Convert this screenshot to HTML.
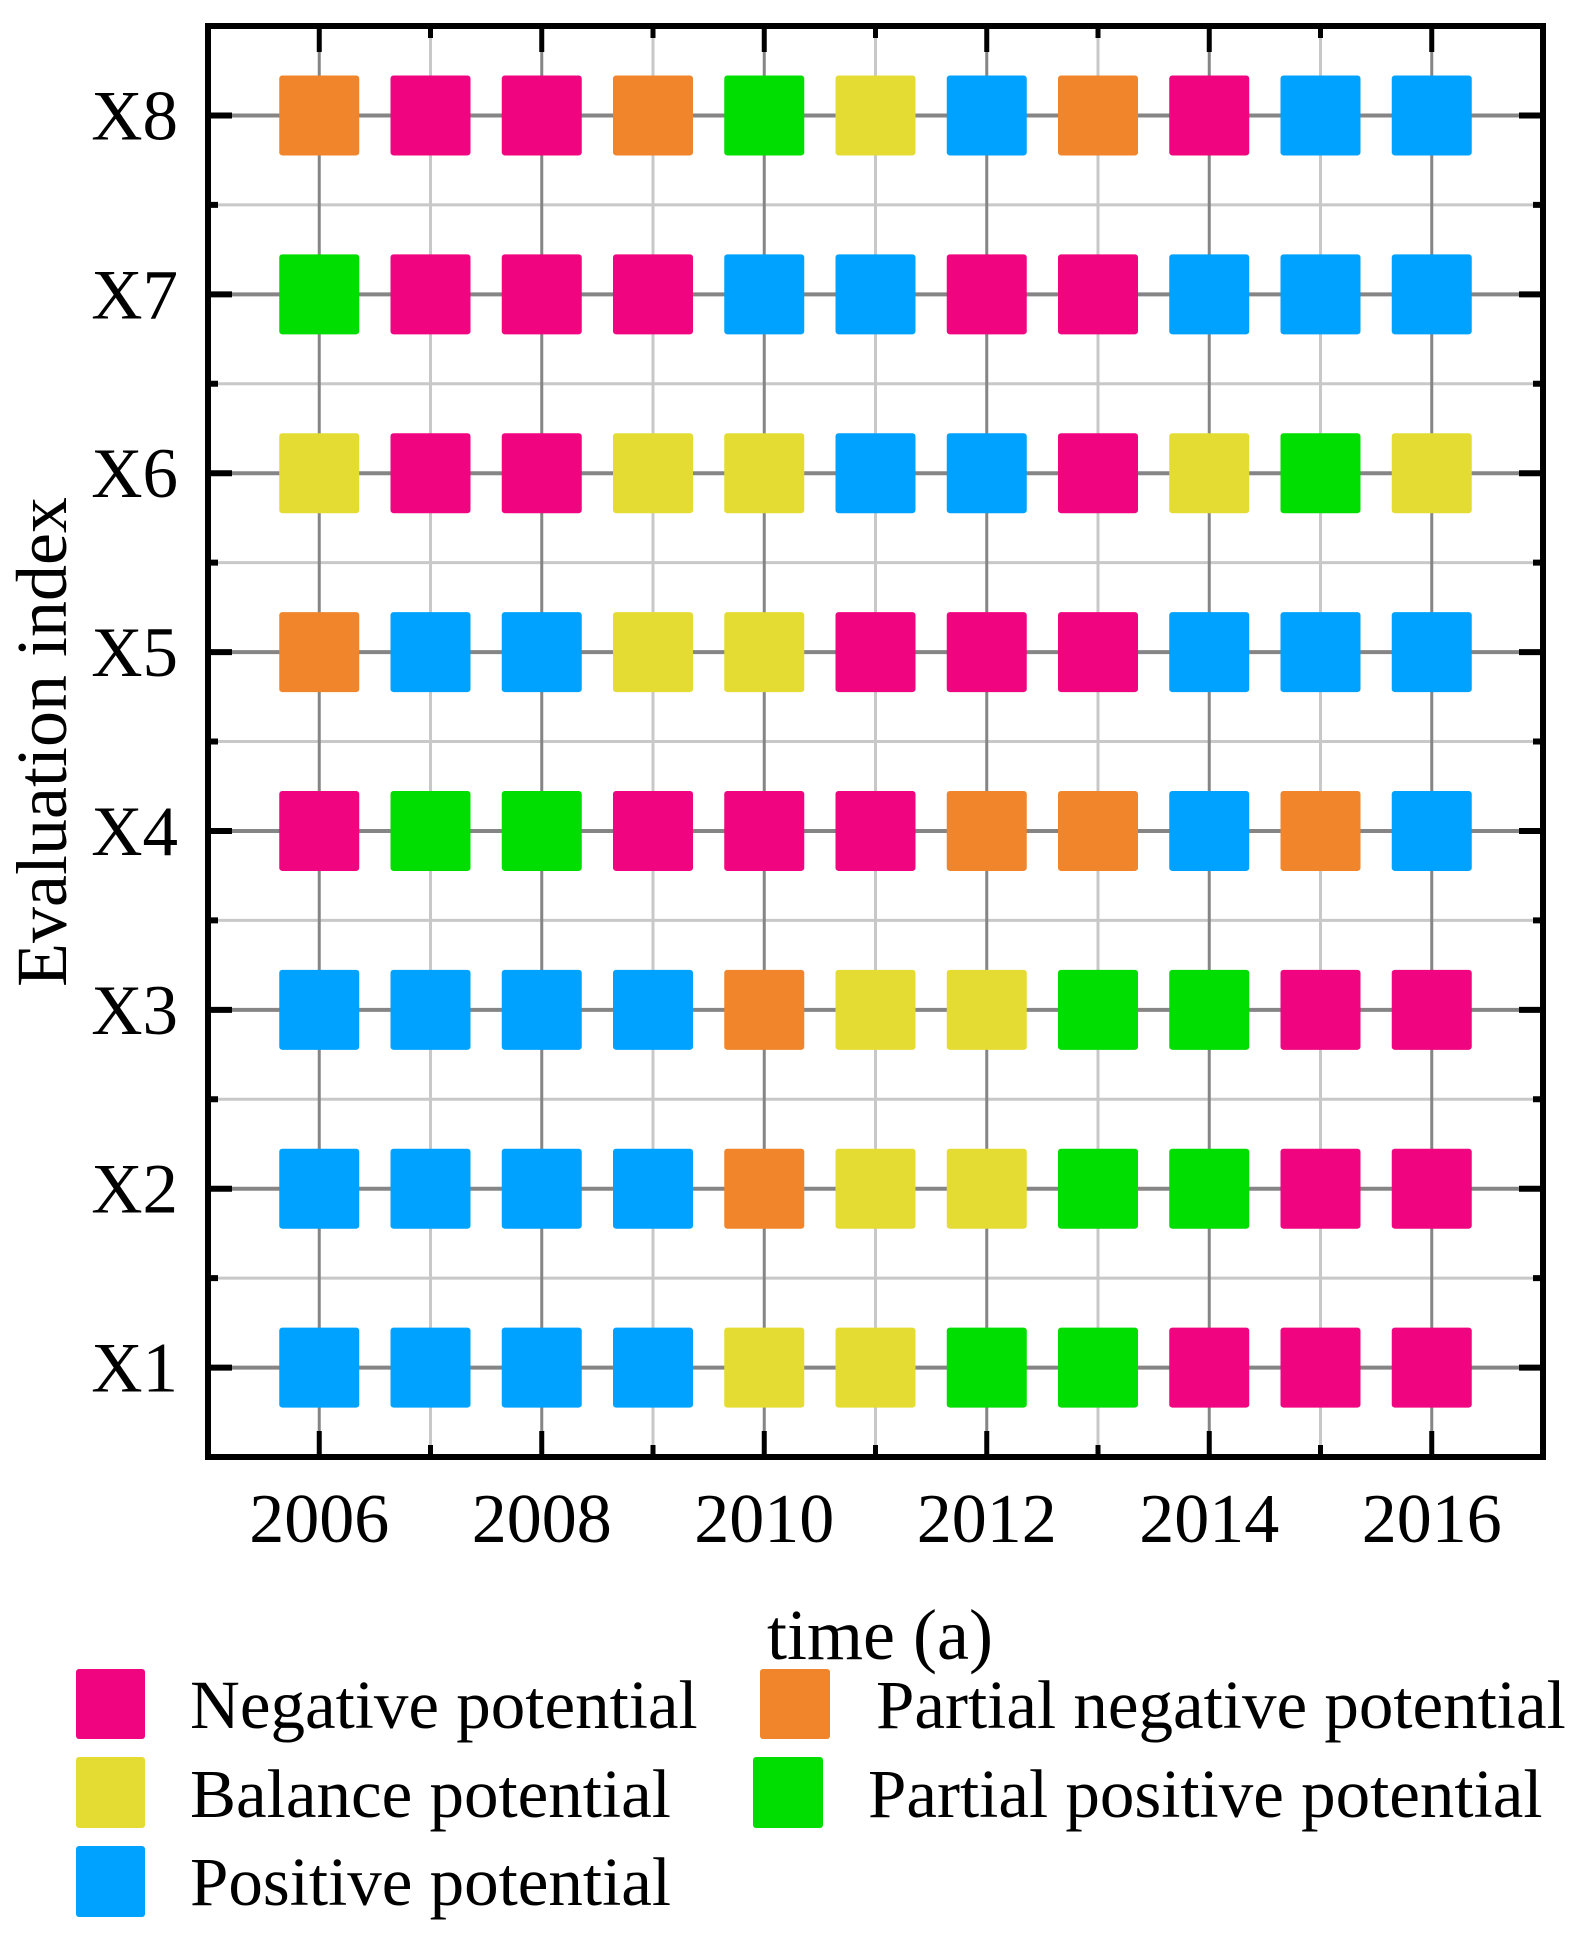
<!DOCTYPE html>
<html><head><meta charset="utf-8"><style>
html,body{margin:0;padding:0;background:#fff;}
svg{display:block;font-family:"Liberation Serif",serif;}
</style></head><body>
<svg id="chart" width="1590" height="1935" viewBox="0 0 1590 1935" xmlns="http://www.w3.org/2000/svg">
<g id="grid"></g>
<g id="marks"></g>
<g id="axes"></g>
<text x="0" y="0" transform="translate(66,742) rotate(-90)" text-anchor="middle" font-size="72">Evaluation index</text>
<text x="880" y="1659" text-anchor="middle" font-size="72">time (a)</text>
<g font-size="69">
<rect x="76" y="1669" width="69" height="70" rx="3" fill="#f0047f"/>
<text x="190" y="1728">Negative potential</text>
<rect x="76" y="1757" width="69" height="71" rx="3" fill="#e5dc33"/>
<text x="190" y="1817">Balance potential</text>
<rect x="76" y="1846" width="69" height="71" rx="3" fill="#00a2ff"/>
<text x="190" y="1905">Positive potential</text>
<rect x="760" y="1669" width="70" height="70" rx="3" fill="#f0852b"/>
<text x="876" y="1728">Partial negative potential</text>
<rect x="753" y="1757" width="70" height="71" rx="3" fill="#00dd00"/>
<text x="868" y="1817">Partial positive potential</text>
</g>
</svg>
<script>
const years = [2006,2007,2008,2009,2010,2011,2012,2013,2014,2015,2016];
const indices = ["X1","X2","X3","X4","X5","X6","X7","X8"];
const xTickLabels = [2006,2008,2010,2012,2014,2016];
const statusX1 = ["B","B","B","B","Y","Y","G","G","N","N","N"];
const statusX2 = ["B","B","B","B","O","Y","Y","G","G","N","N"];
const statusX3 = ["B","B","B","B","O","Y","Y","G","G","N","N"];
const statusX4 = ["N","G","G","N","N","N","O","O","B","O","B"];
const statusX5 = ["O","B","B","Y","Y","N","N","N","B","B","B"];
const statusX6 = ["Y","N","N","Y","Y","B","B","N","Y","G","Y"];
const statusX7 = ["G","N","N","N","B","B","N","N","B","B","B"];
const statusX8 = ["O","N","N","O","G","Y","B","O","N","B","B"];
const statusRows = [statusX1,statusX2,statusX3,statusX4,statusX5,statusX6,statusX7,statusX8];
const colors = {N:"#f0047f",O:"#f0852b",Y:"#e5dc33",G:"#00dd00",B:"#00a2ff"};

const L=208,R=1543,T=26,B=1457;
const xS=v=>L+(v-2005)/(2017-2005)*(R-L);
const yS=v=>B-(v-0.5)/(8.5-0.5)*(B-T);
const NS="http://www.w3.org/2000/svg";
function mk(tag,attrs,parent){const e=document.createElementNS(NS,tag);for(const k in attrs)e.setAttribute(k,attrs[k]);parent.appendChild(e);return e;}
const grid=document.getElementById('grid'),marks=document.getElementById('marks'),axes=document.getElementById('axes');

for(let i=0;i<=indices.length;i++){
  const yv=i+0.5;
  if(yv>0.5&&yv<8.5){const l=mk('line',{x1:L,x2:R,y1:yS(yv),y2:yS(yv),stroke:'#c8c8c8','stroke-width':3},grid);
  
  }
}
years.forEach(yr=>{
  const major=(yr%2===0);
  const l=mk('line',{x1:xS(yr),x2:xS(yr),y1:T,y2:B,stroke:major?'#858585':'#c8c8c8','stroke-width':3},grid);
  
  
});
indices.forEach((n,i)=>{
  const l=mk('line',{x1:L,x2:R,y1:yS(i+1),y2:yS(i+1),stroke:'#858585','stroke-width':4},grid);
  
  
});
statusRows.forEach((row,i)=>{
  row.forEach((s,j)=>{
    const r=mk('rect',{x:xS(years[j])-40,y:yS(i+1)-40,width:80,height:80,rx:3,fill:colors[s]},marks);
    
    
  });
});
const f=mk('rect',{x:L,y:T,width:R-L,height:B-T,fill:'none',stroke:'#000','stroke-width':6},axes);


years.forEach(yr=>{
  const len=(yr%2===0)?26:12;
  [[B,B-len],[T,T+len]].forEach(p=>{
    const t=mk('line',{x1:xS(yr),x2:xS(yr),y1:p[0],y2:p[1],stroke:'#000','stroke-width':5},axes);
    
    
  });
});
xTickLabels.forEach(yr=>{
  const t=mk('text',{x:xS(yr),y:1542,'text-anchor':'middle','font-size':70},axes);
  t.textContent=yr;
  
  
});
for(let v=0.5;v<=8.5;v+=0.5){
  if(v===0.5||v===8.5)continue;
  const major=Number.isInteger(v);
  const len=major?24:10;
  [[L,L+len],[R,R-len]].forEach(p=>{
    const t=mk('line',{x1:p[0],x2:p[1],y1:yS(v),y2:yS(v),stroke:'#000','stroke-width':6},axes);
    
    
  });
}
indices.forEach((n,i)=>{
  const t=mk('text',{x:178,y:yS(i+1)+24,'text-anchor':'end','font-size':71},axes);
  t.textContent=n;
  
  
});
</script>
</body></html>
